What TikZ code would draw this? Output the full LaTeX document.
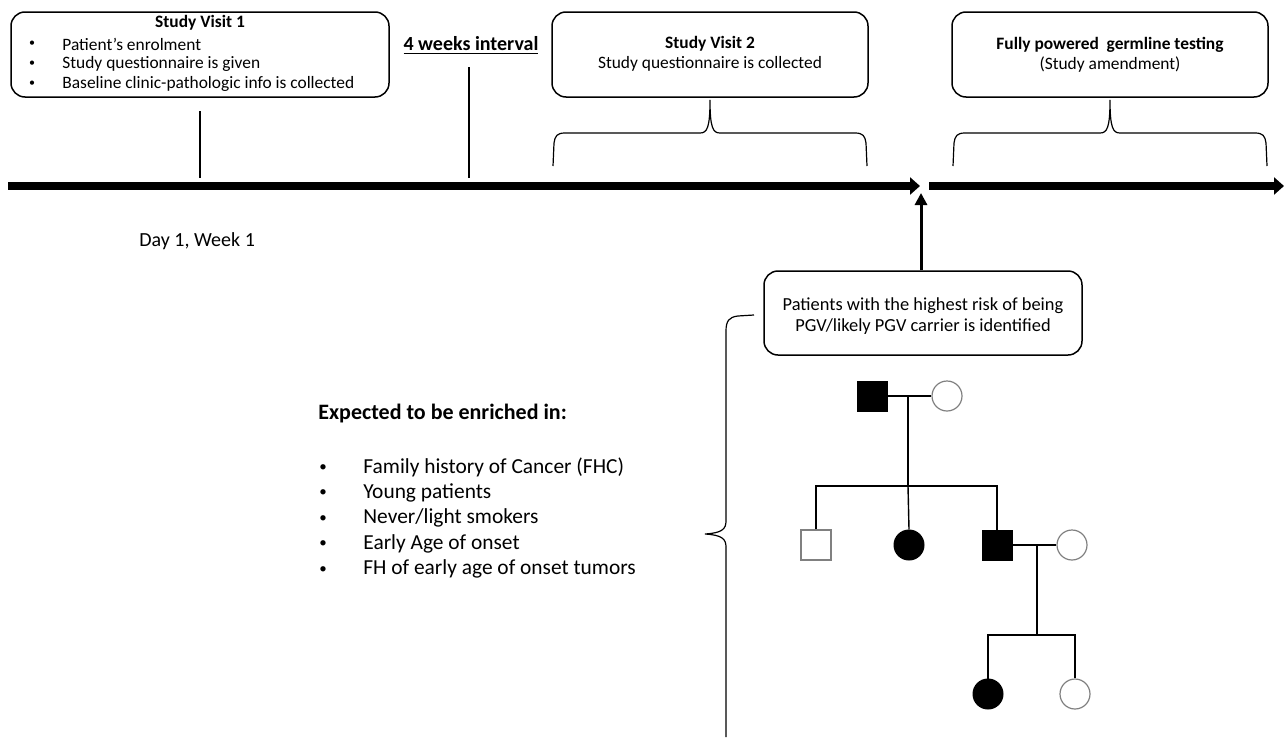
\documentclass[tikz,border=0pt]{standalone}
\usepackage{fontspec}
\setmainfont{Carlito}
\usetikzlibrary{arrows.meta}
\begin{document}
\begin{tikzpicture}[x=0.5pt,y=-0.5pt,
  rbox/.style={draw=black, line width=0.75pt, rounded corners=7pt, inner sep=0pt},
  boxtitle/.style={font=\bfseries\fontsize{8.7}{10}\selectfont, inner sep=0pt},
  boxtxt/.style={font=\fontsize{8.7}{10}\selectfont, inner sep=0pt},
  boxbul/.style={font=\fontsize{6}{7}\selectfont, inner sep=0pt},
  listtxt/.style={font=\fontsize{10.7}{13}\selectfont, inner sep=0pt, anchor=west},
  listbul/.style={font=\fontsize{7.5}{9}\selectfont, inner sep=0pt},
  thinline/.style={line width=0.6pt},
  brace/.style={line width=0.6pt},
  timeline/.style={line width=4pt, -{Triangle[length=5pt,width=8.5pt]}},
  uparrow/.style={line width=1.5pt, -{Triangle[length=6pt,width=6pt]}},
  ped/.style={line width=0.7pt},
  sqf/.style={draw=black, fill=black, minimum size=15pt, inner sep=0pt, line width=0.5pt},
  sqo/.style={draw=gray, fill=white, minimum size=15pt, inner sep=0pt, line width=0.6pt},
  cif/.style={circle, draw=black, fill=black, minimum size=15pt, inner sep=0pt, line width=0.5pt},
  cio/.style={circle, draw=gray, fill=white, minimum size=15pt, inner sep=0pt, line width=0.6pt}]
\useasboundingbox (0,0) rectangle (1284,739);

% ---- boxes ----
\node[rbox, minimum width=189pt, minimum height=42.5pt] (v1) at (200,54.5) {};
\node[boxtitle] (v1t) at (200,23) {Study Visit 1};
\node[boxbul] (b1) at (32,44) {•};
\node[boxbul] (b2) at (32,64) {•};
\node[boxbul] (b3) at (32,84) {•};
\node[boxtxt, anchor=west] (v1a) at (62,44) {Patient’s enrolment};
\node[boxtxt, anchor=west] (v1b) at (62,64) {Study questionnaire is given};
\node[boxtxt, anchor=west] (v1c) at (62,84) {Baseline clinic-pathologic info is collected};

\node[font=\bfseries\fontsize{10}{12}\selectfont, inner sep=0pt] (iv) at (471,46) {\underline{4 weeks interval}};

\node[rbox, minimum width=158pt, minimum height=42.5pt] (v2) at (710,54.5) {};
\node[boxtitle] (v2t) at (710,44) {Study Visit 2};
\node[boxtxt] (v2a) at (710,64) {Study questionnaire is collected};

\node[rbox, minimum width=158pt, minimum height=42.5pt] (v3) at (1110,54.5) {};
\node[boxtitle] (v3t) at (1110,45) {Fully powered\ \ germline testing};
\node[boxtxt] (v3a) at (1110,65) {(Study amendment)};

\node[rbox, minimum width=159pt, minimum height=42pt] (v4) at (923,313) {};
\node[font=\fontsize{9.2}{11}\selectfont, inner sep=0pt] (v4a) at (923,306) {Patients with the highest risk of being};
\node[font=\fontsize{9.2}{11}\selectfont, inner sep=0pt] (v4b) at (923,327) {PGV/likely PGV carrier is identified};

% ---- timeline ----
\coordinate (t0) at (8,186);
\coordinate (t1) at (920,186);
\coordinate (t2) at (929,186);
\coordinate (t3) at (1284,186);
\draw[timeline] (t0) -- (t1);
\draw[timeline] (t2) -- (t3);
\coordinate (up) at (921,193);
\draw[uparrow] (v4.north -| up) -- (up);

\coordinate (k1a) at (200,111);
\coordinate (k1b) at (200,178);
\draw[thinline] (k1a) -- (k1b);
\coordinate (k2a) at (469,67);
\coordinate (k2b) at (469,178);
\draw[thinline] (k2a) -- (k2b);

\node[font=\fontsize{10}{12}\selectfont, inner sep=0pt, anchor=west] (day) at (139,241) {Day 1, Week 1};

% ---- braces under boxes ----
\draw[brace] (553,166) -- (554,143) .. controls (555,136) and (557,133) .. (565,133) -- (700,133) .. controls (707,133) and (710,128) .. (710,100)
  .. controls (710,128) and (713,133) .. (720,133) -- (855,133) .. controls (863,133) and (865,136) .. (866,143) -- (867,166);
\draw[brace] (953,166) -- (954,143) .. controls (955,136) and (957,133) .. (965,133) -- (1100,133) .. controls (1107,133) and (1110,128) .. (1110,100)
  .. controls (1110,128) and (1113,133) .. (1120,133) -- (1255,133) .. controls (1263,133) and (1265,136) .. (1266,143) -- (1267,166);

% ---- left brace ----
\draw[brace] (754,315) -- (738,316) .. controls (729,317) and (726,321) .. (726,331) -- (726,521) .. controls (726,529) and (722,533) .. (705,534)
  .. controls (722,535) and (726,539) .. (726,547) -- (726,737);

% ---- list ----
\node[font=\bfseries\fontsize{11}{13}\selectfont, inner sep=0pt, anchor=west] (exp) at (318,414) {Expected to be enriched in:};
\foreach \i/\t in {0/{Family history of Cancer (FHC)},1/{Young patients},2/{Never/light smokers},3/{Early Age of onset},4/{FH of early age of onset tumors}}{
  \node[listbul] (bl\i) at (323,468+25.5*\i) {•};
  \node[listtxt] (li\i) at (363,467+25.5*\i) {\t};
}

% ---- pedigree ----
\node[sqf] (gf) at (872,396) {};
\node[cio] (gm) at (947,396) {};
\node[sqo] (c1) at (816,545) {};
\node[cif] (c2) at (909,545) {};
\node[sqf] (c3) at (997,545) {};
\node[cio] (sp) at (1072,545) {};
\node[cif] (g1) at (988,694) {};
\node[cio] (g2) at (1075,694) {};
\coordinate (m1) at (908,396);
\coordinate (s1) at (908,486);
\coordinate (m2) at (1037,545);
\coordinate (s2) at (1037,635);
\draw[ped] (gf.east) -- (gm.west);
\draw[ped] (m1) -- (s1);
\draw[ped] (c1.north) |- (s1) -| (c3.north);
\draw[ped] (s1) -- (c2.north);
\draw[ped] (c3.east) -- (sp.west);
\draw[ped] (m2) -- (s2);
\draw[ped] (g1.north) |- (s2) -| (g2.north);
\end{tikzpicture}
\end{document}
